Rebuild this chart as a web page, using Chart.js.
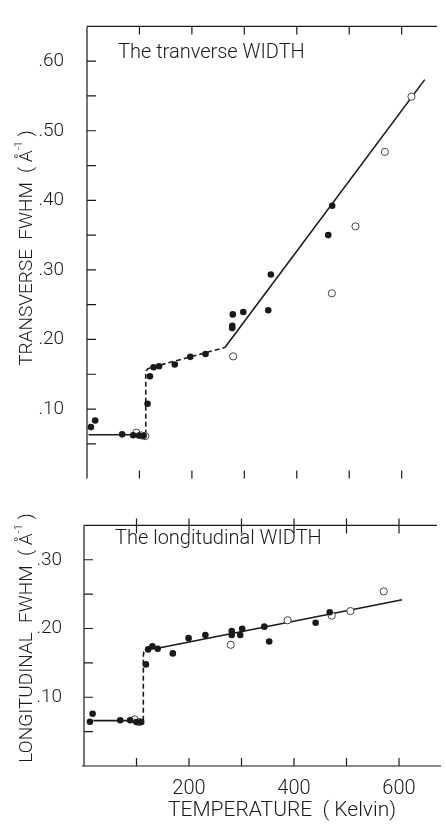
<!DOCTYPE html>
<html>
<head>
<meta charset="utf-8">
<script src="https://cdn.jsdelivr.net/npm/chart.js@4.4.0/dist/chart.umd.min.js"></script>
<style>
  body { margin: 0; background: #fff; }
  #wrap { position: relative; width: 446px; height: 824px; }
  #topChart { position: absolute; left: 0; top: 0; }
  #bottomChart { position: absolute; left: 0; top: 500px; }
</style>
</head>
<body>
<div id="wrap">
  <canvas id="topChart" width="446" height="505"></canvas>
  <canvas id="bottomChart" width="446" height="324"></canvas>
</div>
<script>
// Transverse width (top panel), temperature in K, width in 1/Angstrom
const transFilledT = [7.5, 15.6, 67, 88, 99, 108, 115.5, 120, 126.8, 137.4, 167.4, 197, 226, 276.8, 277, 278, 298, 345.6, 350.6, 460, 467.5];
const transFilledW = [0.074, 0.0835, 0.0636, 0.0623, 0.062, 0.0615, 0.1075, 0.147, 0.160, 0.1615, 0.164, 0.175, 0.179, 0.2163, 0.2198, 0.236, 0.2394, 0.242, 0.2934, 0.350, 0.3921];
const transOpenT = [94, 104, 111, 278.7, 466.9, 512, 568, 618.7];
const transOpenW = [0.066, 0.062, 0.061, 0.1757, 0.2664, 0.3625, 0.4696, 0.549];
// fitted curves
const transLowT = [3, 112];
const transLowW = [0.063, 0.063];
const transStepT = [112, 112, 113, 116, 124, 263];
const transStepW = [0.063, 0.150, 0.155, 0.158, 0.160, 0.1885];
const transHighT = [263, 644];
const transHighW = [0.1885, 0.5735];

// Longitudinal width (bottom panel)
const longFilledT = [11.3, 16.4, 69, 87.8, 99.6, 109, 117.9, 122.2, 130.3, 140.4, 169.2, 199.2, 231.2, 281.4, 281.4, 297.6, 301.3, 343.4, 352.8, 441.2, 468];
const longFilledW = [0.0643, 0.0759, 0.0665, 0.0665, 0.064, 0.064, 0.1478, 0.1696, 0.174, 0.1705, 0.1638, 0.186, 0.1906, 0.1964, 0.1906, 0.1906, 0.1995, 0.2027, 0.1812, 0.2084, 0.2236];
const longOpenT = [96.4, 105, 279.5, 387.8, 471.8, 507.5, 570.9];
const longOpenW = [0.0679, 0.064, 0.1763, 0.2120, 0.2187, 0.2254, 0.254];
const longLowT = [18, 113];
const longLowW = [0.066, 0.066];
const longStepT = [113, 113, 114, 117, 122];
const longStepW = [0.066, 0.160, 0.166, 0.169, 0.170];
const longHighT = [145, 606];
const longHighW = [0.172, 0.2419];

// Ticks
const tempTicks = [100, 200, 300, 400, 500, 600];
const tempLabels = [200, 400, 600];
const transTicks = [0.05, 0.10, 0.15, 0.20, 0.25, 0.30, 0.35, 0.40, 0.45, 0.50, 0.55, 0.60];
const transLabels = [0.10, 0.20, 0.30, 0.40, 0.50, 0.60];
const longTicks = [0.05, 0.10, 0.15, 0.20, 0.25, 0.30];
const longLabels = [0.10, 0.20, 0.30];

const INK = '#1a1a1a';
Chart.defaults.font.family = 'Roboto, "Liberation Sans", sans-serif';
Chart.defaults.font.weight = 300;
Chart.defaults.color = INK;

function pts(xs, ys) {
    return xs.map((x, i) => ({ x: x, y: ys[i] }));
}

function fmtWidth(v) {
    return '.' + String(Math.round(v * 100)).padStart(2, '0');
}

function makeDatasets(filledT, filledW, openT, openW, lowT, lowW, stepT, stepW, highT, highW) {
    return [
        { data: pts(filledT, filledW), pointRadius: 3.3, backgroundColor: INK, borderColor: INK, borderWidth: 0 },
        { data: pts(openT, openW), pointRadius: 3.6, backgroundColor: '#fff', borderColor: '#444', borderWidth: 1 },
        { data: pts(lowT, lowW), showLine: true, pointRadius: 0, borderColor: INK, borderWidth: 1.6 },
        { data: pts(stepT, stepW), showLine: true, pointRadius: 0, borderColor: INK, borderWidth: 1.6, borderDash: [5, 3] },
        { data: pts(highT, highW), showLine: true, pointRadius: 0, borderColor: INK, borderWidth: 1.6 }
    ];
}

function drawTitle(ctx, cx, cy, main, sup, tail, size) {
    ctx.save();
    ctx.translate(cx, cy);
    ctx.rotate(-Math.PI / 2);
    ctx.fillStyle = INK;
    ctx.textBaseline = 'middle';
    ctx.textAlign = 'left';
    const big = '300 ' + size + 'px Roboto, sans-serif';
    const small = '300 ' + Math.round(size * 0.6) + 'px Roboto, sans-serif';
    ctx.font = big;
    const w1 = ctx.measureText(main).width;
    const w3 = ctx.measureText(tail).width;
    ctx.font = small;
    const w2 = ctx.measureText(sup).width;
    let x = -(w1 + w2 + w3) / 2;
    ctx.font = big;
    ctx.fillText(main, x, 0);
    x += w1;
    ctx.font = small;
    ctx.fillText(sup, x, -size * 0.42);
    x += w2;
    ctx.font = big;
    ctx.fillText(tail, x, 0);
    ctx.restore();
}

// inward tick marks and frame lines, placed through the chart's scales
function framePlugin(cfg) {
    return {
        id: 'frame',
        afterDraw(chart) {
            const ctx = chart.ctx;
            const a = chart.chartArea;
            const xs = chart.scales.x;
            const ys = chart.scales.y;
            ctx.save();
            ctx.strokeStyle = INK;
            ctx.lineWidth = 1.2;
            ctx.beginPath();
            ctx.moveTo(a.left, a.top);
            ctx.lineTo(a.left, a.bottom);
            if (cfg.topLine) {
                ctx.moveTo(a.left, a.top);
                ctx.lineTo(a.right - 4, a.top);
            }
            if (cfg.bottomLine) {
                ctx.moveTo(a.left - 2, a.bottom);
                ctx.lineTo(a.right, a.bottom);
            }
            tempTicks.forEach(t => {
                const x = xs.getPixelForValue(t);
                ctx.moveTo(x, a.top - cfg.topOut);
                ctx.lineTo(x, a.top + 8);
                ctx.moveTo(x, a.bottom);
                ctx.lineTo(x, a.bottom - 8);
            });
            cfg.yTicks.forEach(v => {
                const y = ys.getPixelForValue(v);
                ctx.moveTo(a.left, y);
                ctx.lineTo(a.left + 9, y);
            });
            ctx.stroke();

            ctx.fillStyle = INK;
            ctx.font = '300 20px Roboto, sans-serif';
            ctx.textBaseline = 'middle';
            ctx.textAlign = 'left';
            ctx.fillText(cfg.label, cfg.labelX, cfg.labelY);
            drawTitle(ctx, cfg.titleX, cfg.titleY, cfg.title, '-1', ' )', 19);
            if (cfg.xTitle) {
                ctx.font = '300 21px Roboto, sans-serif';
                ctx.textAlign = 'center';
                ctx.fillText(cfg.xTitle, cfg.xTitleX, cfg.xTitleY);
            }
            ctx.restore();
        }
    };
}

function yScale(max, width, pad, tickVals, labelVals) {
    return {
        type: 'linear',
        min: 0,
        max: max,
        grid: { display: false },
        border: { display: false },
        afterBuildTicks: s => { s.ticks = tickVals.map(v => ({ value: v })); },
        afterFit: s => { s.width = width; },
        ticks: {
            padding: pad,
            font: { size: 19, weight: 300 },
            color: INK,
            callback: v => labelVals.some(l => Math.abs(l - v) < 1e-6) ? fmtWidth(v) : ''
        }
    };
}

new Chart(document.getElementById('topChart'), {
    type: 'scatter',
    data: { datasets: makeDatasets(transFilledT, transFilledW, transOpenT, transOpenW, transLowT, transLowW, transStepT, transStepW, transHighT, transHighW) },
    options: {
        responsive: false,
        animation: false,
        layout: { padding: { top: 15, right: 0, bottom: 0, left: 0 } },
        plugins: { legend: { display: false }, tooltip: { enabled: false } },
        scales: {
            x: { type: 'linear', min: 0, max: 675, display: false },
            y: yScale(0.65, 87, 15, transTicks, transLabels)
        }
    },
    plugins: [framePlugin({
        topLine: true, bottomLine: false, topOut: 0, yTicks: transTicks,
        label: 'The tranverse WIDTH', labelX: 118, labelY: 53,
        title: 'TRANSVERSE  FWHM  ( Å', titleX: 27, titleY: 248
    })]
});

new Chart(document.getElementById('bottomChart'), {
    type: 'scatter',
    data: { datasets: makeDatasets(longFilledT, longFilledW, longOpenT, longOpenW, longLowT, longLowW, longStepT, longStepW, longHighT, longHighW) },
    options: {
        responsive: false,
        animation: false,
        layout: { padding: { top: 4, right: 0, bottom: 0, left: 0 } },
        plugins: { legend: { display: false }, tooltip: { enabled: false } },
        scales: {
            x: {
                type: 'linear',
                min: 0,
                max: 680,
                grid: { display: false },
                border: { display: false },
                afterBuildTicks: s => { s.ticks = tempLabels.map(v => ({ value: v })); },
                afterFit: s => { s.height = 58; },
                ticks: { padding: 3, font: { size: 20, weight: 300 }, color: INK, maxRotation: 0 }
            },
            y: yScale(0.35, 84, 14, longTicks, longLabels)
        }
    },
    plugins: [framePlugin({
        topLine: true, bottomLine: true, topOut: 7, yTicks: longTicks,
        label: 'The longitudinal WIDTH', labelX: 115, labelY: 39,
        title: 'LONGITUDINAL  FWHM  ( Å', titleX: 27, titleY: 138,
        xTitle: 'TEMPERATURE  ( Kelvin)', xTitleX: 282, xTitleY: 311
    })]
});
</script>
</body>
</html>
